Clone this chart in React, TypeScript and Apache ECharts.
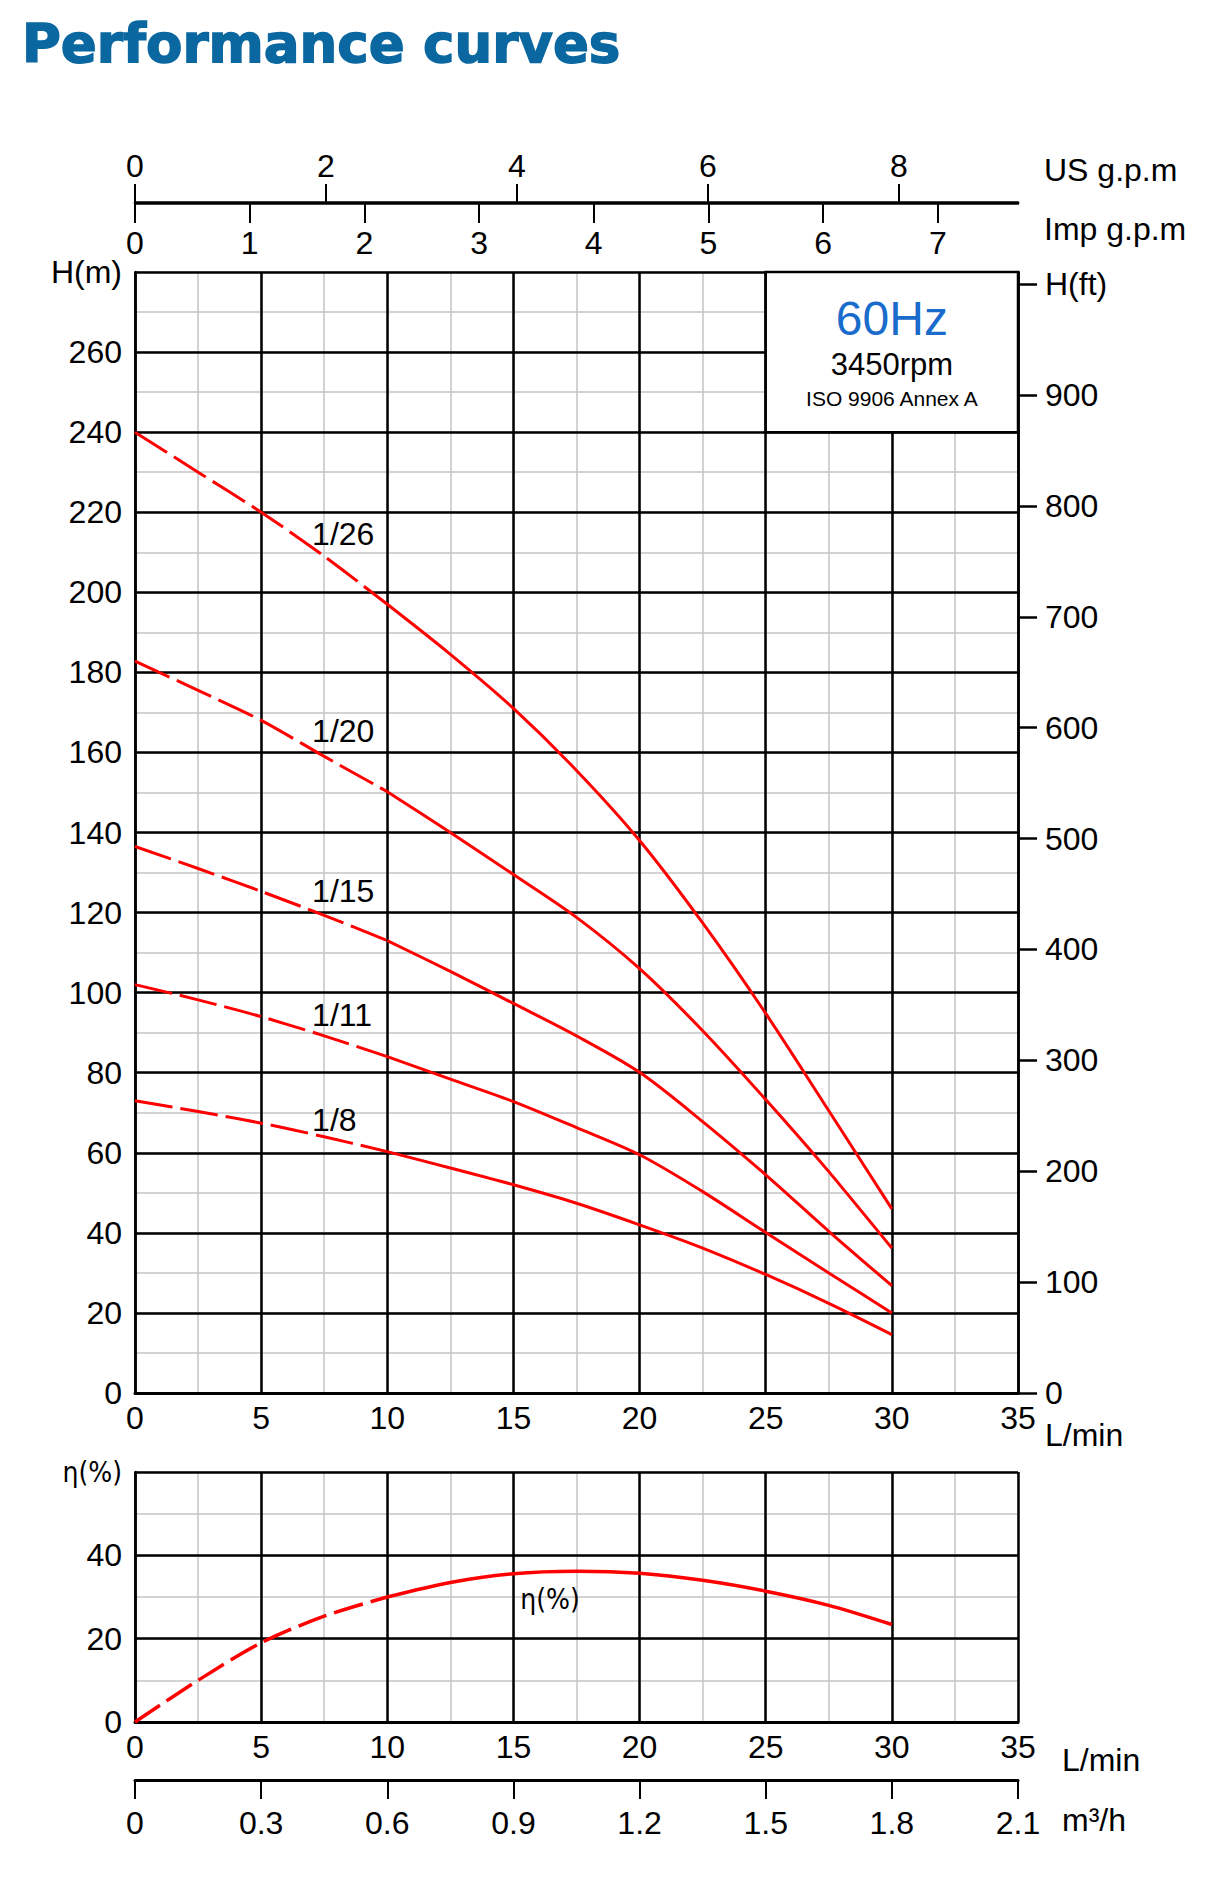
import React, { useEffect, useRef } from "react";
import * as echarts from "echarts";

// ---- data ----
const FLOW = [0, 2.5, 5, 7.5, 10, 12.5, 15, 17.5, 20, 22.5, 25, 27.5, 30];
const H_1_26 = [240, 230, 220, 209, 197, 184.5, 171, 155.5, 138, 117.4, 94.8, 70.5, 46];
const H_1_20 = [182.8, 175.5, 168, 159, 150.2, 140, 129.5, 118.8, 106, 90.5, 73.3, 55.3, 36.2];
const H_1_15 = [136.5, 131, 125.3, 119.3, 113, 105.3, 97.3, 89.2, 80.1, 67.8, 54.5, 40.4, 26.8];
const H_1_11 = [102, 98.2, 94, 89.2, 84, 78.4, 72.8, 66.3, 59.5, 50.3, 40.1, 30, 20];
const H_1_8 = [73, 70.3, 67.4, 64, 60.3, 56.2, 52, 47.4, 42, 36.2, 29.6, 22.4, 14.6];
const ETA = [0, 10, 19, 25.4, 30, 33.5, 35.6, 36.2, 35.7, 34, 31.4, 28, 23.4];
const CURVE_NAMES = ["1/26", "1/20", "1/15", "1/11", "1/8"];
const CURVE_LABEL_X = 7;
const CURVE_LABEL_Y = [214.5, 165.3, 125.3, 94.5, 68.2];
const ETA_LABEL = { x: 16.45, y: 29.3, text: "η(%)" };
const DASH_END_INDEX = 4; // dashed up to 10 L/min

const US_GPM_TICKS = [0, 2, 4, 6, 8];
const IMP_GPM_TICKS = [0, 1, 2, 3, 4, 5, 6, 7];
const M3H_TICKS = [0, 0.3, 0.6, 0.9, 1.2, 1.5, 1.8, 2.1];
const FT_TICKS = [0, 100, 200, 300, 400, 500, 600, 700, 800, 900, 1000];
const LPM_MAX = 35;
const H_MAX = 280;
const FT_MAX = 1011;
const ETA_MAX = 60;
const M3H_MAX = 2.1;
const LPM_PER_USGPM = 3.78541;
const LPM_PER_IMPGPM = 4.54609;

const BOX = { x1: 25, x2: 35, y1: 240, y2: 280 };

const FONT = "'Liberation Sans', Arial, Helvetica, sans-serif";
const NARROW = "'Liberation Sans Narrow', 'DejaVu Sans Condensed', sans-serif";
const RED = "#ff0000";
const GRAY = "#c4c4c4";

const L = 135;
const W = 883;
const MAIN_TOP = 272;
const MAIN_H = 1121;
const LOW_TOP = 1472;
const LOW_H = 250;

function pairs(ys: number[], from: number, to: number) {
  const out: number[][] = [];
  for (let i = from; i <= to; i++) out.push([FLOW[i], ys[i]]);
  return out;
}

export default function App() {
  const ref = useRef<HTMLDivElement>(null);
  useEffect(() => {
    if (!ref.current) return;
    const chart = echarts.init(ref.current, null, { renderer: "svg" });
    const labelStyle = { fontSize: 32, color: "#000", fontFamily: FONT };
    const grayAxis = (gridIndex: number, interval: number, max: number) => ({
      type: "value",
      gridIndex,
      min: 0,
      max,
      interval,
      z: 0,
      axisLine: { show: false },
      axisTick: { show: false },
      axisLabel: { show: false },
      splitLine: { show: true, lineStyle: { color: GRAY, width: 1.5 } },
    });
    const blackSplit = { show: true, lineStyle: { color: "#000", width: 2.5 } };
    const curves = [H_1_26, H_1_20, H_1_15, H_1_11, H_1_8];
    const lineCommon = { smooth: 0.3, showSymbol: false, z: 3, silent: true };
    const series: any[] = [];
    series.push({
      type: "line",
      xAxisIndex: 1,
      yAxisIndex: 1,
      data: [],
      z: 2,
      silent: true,
      markArea: {
        silent: true,
        itemStyle: { color: "#fff", borderColor: "#000", borderWidth: 2.5, opacity: 1 },
        label: {
          show: true,
          position: "inside",
          formatter: "{a|60Hz}\n{b|3450rpm}\n{c|ISO 9906 Annex A}",
          rich: {
            a: { fontSize: 48, color: "#1a6ccc", lineHeight: 52, fontFamily: FONT, align: "center" },
            b: { fontSize: 31, color: "#000", lineHeight: 40, fontFamily: FONT, align: "center" },
            c: { fontSize: 21, color: "#000", lineHeight: 28, fontFamily: FONT, align: "center" },
          },
        },
        data: [[{ coord: [BOX.x1, BOX.y2] }, { coord: [BOX.x2, BOX.y1] }]],
      },
    });
    curves.forEach((ys, k) => {
      series.push({
        type: "line",
        name: CURVE_NAMES[k] + " dashed",
        xAxisIndex: 1,
        yAxisIndex: 1,
        data: pairs(ys, 0, DASH_END_INDEX),
        ...lineCommon,
        lineStyle: { color: RED, width: 3, type: [38, 8] },
      });
      series.push({
        type: "line",
        name: CURVE_NAMES[k],
        xAxisIndex: 1,
        yAxisIndex: 1,
        data: pairs(ys, DASH_END_INDEX, FLOW.length - 1),
        ...lineCommon,
        lineStyle: { color: RED, width: 3, type: "solid" },
      });
    });
    series.push({
      type: "scatter",
      xAxisIndex: 1,
      yAxisIndex: 1,
      symbolSize: 1,
      silent: true,
      itemStyle: { color: "rgba(0,0,0,0)", opacity: 1 },
      z: 4,
      data: CURVE_NAMES.map((n, i) => ({ name: n, value: [CURVE_LABEL_X, CURVE_LABEL_Y[i]] })),
      label: { show: true, position: "right", distance: 0, formatter: "{b}", opacity: 1, ...labelStyle },
    });
    series.push({
      type: "line",
      xAxisIndex: 5,
      yAxisIndex: 5,
      data: pairs(ETA, 0, DASH_END_INDEX),
      ...lineCommon,
      lineStyle: { color: RED, width: 3.5, type: [30, 8] },
    });
    series.push({
      type: "line",
      xAxisIndex: 5,
      yAxisIndex: 5,
      data: pairs(ETA, DASH_END_INDEX, FLOW.length - 1),
      ...lineCommon,
      lineStyle: { color: RED, width: 3.5, type: "solid" },
    });
    series.push({
      type: "scatter",
      xAxisIndex: 5,
      yAxisIndex: 5,
      symbolSize: 1,
      silent: true,
      itemStyle: { color: "rgba(0,0,0,0)", opacity: 1 },
      z: 4,
      data: [{ name: ETA_LABEL.text, value: [ETA_LABEL.x, ETA_LABEL.y] }],
      label: {
        show: true,
        position: "inside",
        formatter: "{b}",
        fontSize: 28,
        fontFamily: NARROW,
        color: "#000",
        opacity: 1,
      },
    });

    const grids = [
      { left: L, top: MAIN_TOP, width: W, height: MAIN_H },
      { left: L, top: MAIN_TOP, width: W, height: MAIN_H },
      { left: L, top: 202, width: W, height: 1 },
      { left: L, top: LOW_TOP, width: W, height: LOW_H },
      { left: L, top: LOW_TOP, width: W, height: LOW_H },
      { left: L, top: 1779, width: W, height: 1 },
    ].map((g) => ({ ...g, containLabel: false, outerBoundsMode: "none", show: false }));

    const option: any = {
      animation: false,
      backgroundColor: "#fff",
      textStyle: { fontFamily: FONT },
      grid: grids,
      xAxis: [
        grayAxis(0, 2.5, LPM_MAX),
        {
          type: "value",
          gridIndex: 1,
          min: 0,
          max: LPM_MAX,
          interval: 5,
          z: 1,
          axisLine: { show: true, onZero: false, lineStyle: { color: "#000", width: 3 } },
          axisTick: { show: false },
          axisLabel: { margin: 9, ...labelStyle },
          splitLine: blackSplit,
        },
        {
          type: "value",
          gridIndex: 2,
          position: "top",
          min: 0,
          max: LPM_MAX / LPM_PER_USGPM,
          z: 1,
          axisLine: { show: true, onZero: false, lineStyle: { color: "#000", width: 2.5 } },
          axisTick: { show: true, customValues: US_GPM_TICKS, length: 18, lineStyle: { color: "#000", width: 2 } },
          axisLabel: { customValues: US_GPM_TICKS, margin: 20, ...labelStyle },
          splitLine: { show: false },
        },
        {
          type: "value",
          gridIndex: 2,
          position: "bottom",
          min: 0,
          max: LPM_MAX / LPM_PER_IMPGPM,
          z: 1,
          axisLine: { show: true, onZero: false, lineStyle: { color: "#000", width: 2.5 } },
          axisTick: { show: true, customValues: IMP_GPM_TICKS, length: 20, lineStyle: { color: "#000", width: 2 } },
          axisLabel: { customValues: IMP_GPM_TICKS, margin: 24, ...labelStyle },
          splitLine: { show: false },
        },
        grayAxis(3, 2.5, LPM_MAX),
        {
          type: "value",
          gridIndex: 4,
          min: 0,
          max: LPM_MAX,
          interval: 5,
          z: 1,
          axisLine: { show: true, onZero: false, lineStyle: { color: "#000", width: 3 } },
          axisTick: { show: false },
          axisLabel: { margin: 9, ...labelStyle },
          splitLine: blackSplit,
        },
        {
          type: "value",
          gridIndex: 5,
          position: "bottom",
          min: 0,
          max: M3H_MAX,
          z: 1,
          axisLine: { show: true, onZero: false, lineStyle: { color: "#000", width: 3 } },
          axisTick: { show: true, customValues: M3H_TICKS, length: 19, lineStyle: { color: "#000", width: 2 } },
          axisLabel: {
            customValues: M3H_TICKS,
            margin: 27,
            showMaxLabel: true,
            formatter: (v: number) => (v === 0 ? "0" : v.toFixed(1)),
            ...labelStyle,
          },
          splitLine: { show: false },
        },
      ],
      yAxis: [
        grayAxis(0, 10, H_MAX),
        {
          type: "value",
          gridIndex: 1,
          position: "left",
          min: 0,
          max: H_MAX,
          interval: 20,
          z: 1,
          axisLine: { show: true, onZero: false, lineStyle: { color: "#000", width: 2.5 } },
          axisTick: { show: false },
          axisLabel: {
            margin: 13,
            formatter: (v: number) => (v === H_MAX ? "H(m)" : String(v)),
            ...labelStyle,
          },
          splitLine: blackSplit,
        },
        {
          type: "value",
          gridIndex: 1,
          position: "right",
          min: 0,
          max: FT_MAX,
          z: 1,
          axisLine: { show: true, onZero: false, lineStyle: { color: "#000", width: 2.5 } },
          axisTick: { show: true, customValues: FT_TICKS, length: 19, lineStyle: { color: "#000", width: 2.5 } },
          axisLabel: {
            customValues: FT_TICKS,
            margin: 27,
            formatter: (v: number) => (v === 1000 ? "H(ft)" : String(v)),
            ...labelStyle,
          },
          splitLine: { show: false },
        },
        { type: "value", gridIndex: 2, show: false, min: 0, max: 1 },
        grayAxis(3, 10, ETA_MAX),
        {
          type: "value",
          gridIndex: 4,
          min: 0,
          max: ETA_MAX,
          interval: 20,
          z: 1,
          axisLine: { show: true, onZero: false, lineStyle: { color: "#000", width: 2.5 } },
          axisTick: { show: false },
          axisLabel: {
            margin: 13,
            formatter: (v: number) => (v === ETA_MAX ? "{n|η(%)}" : String(v)),
            rich: { n: { fontFamily: NARROW, fontSize: 28, color: "#000" } },
            ...labelStyle,
          },
          splitLine: blackSplit,
        },
        { type: "value", gridIndex: 5, show: false, min: 0, max: 1 },
      ],
      graphic: [
        {
          type: "text",
          x: 22,
          y: 43,
          style: {
            text: "Performance curves",
            font: "bold 53px 'DejaVu Sans', sans-serif",
            fill: "#0a67a0",
            stroke: "#0a67a0",
            lineWidth: 1.5,
            textVerticalAlign: "middle",
          },
        },
        { type: "text", x: 1044, y: 170, style: { text: "US g.p.m", font: `32px ${FONT}`, fill: "#000", textVerticalAlign: "middle" } },
        { type: "text", x: 1044, y: 229, style: { text: "Imp g.p.m", font: `32px ${FONT}`, fill: "#000", textVerticalAlign: "middle" } },
        { type: "text", x: 1045, y: 1435, style: { text: "L/min", font: `32px ${FONT}`, fill: "#000", textVerticalAlign: "middle" } },
        { type: "text", x: 1062, y: 1760, style: { text: "L/min", font: `32px ${FONT}`, fill: "#000", textVerticalAlign: "middle" } },
        { type: "text", x: 1062, y: 1820, style: { text: "m³/h", font: `32px ${FONT}`, fill: "#000", textVerticalAlign: "middle" } },
      ],
      series,
    };
    chart.setOption(option);
    return () => chart.dispose();
  }, []);
  return (
    <div
      ref={ref}
      style={{ position: "absolute", left: 0, top: 0, width: 1205, height: 1901, background: "#fff" }}
    />
  );
}
